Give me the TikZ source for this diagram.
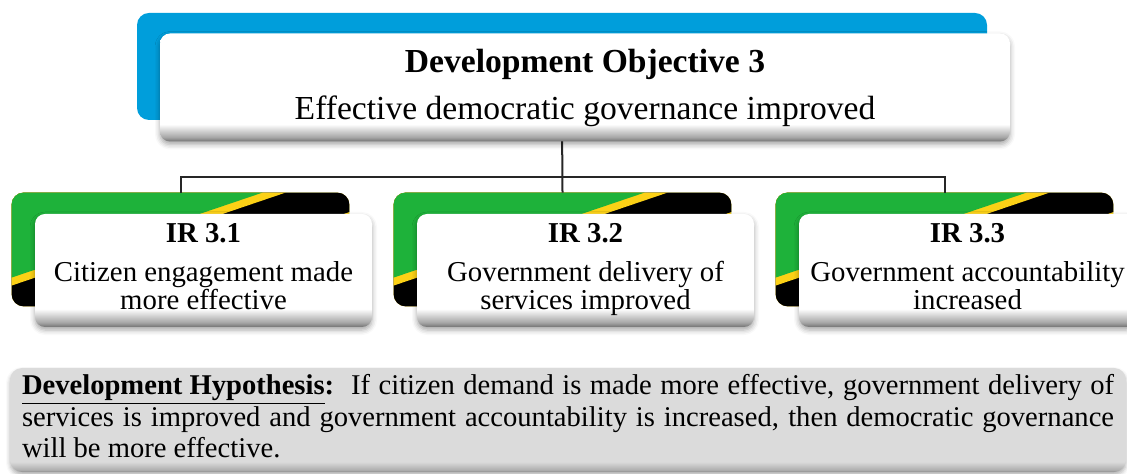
\documentclass[tikz,border=0pt]{standalone}
\usepackage{fontspec}
\setmainfont{Liberation Serif}
\usepackage{tikz}
\usetikzlibrary{shadows.blur}
\definecolor{do-blue}{RGB}{0, 158, 219}
\definecolor{tz-green}{RGB}{30, 178, 58}
\definecolor{tz-yellow}{RGB}{252, 209, 22}
\definecolor{tz-blue}{RGB}{0, 163, 221}

% soft bevel along the lower edge of the boxes
\pgfdeclareverticalshading{whitebevel}{100bp}{color(0bp)=(black!55); color(25bp)=(black!55);
  color(27bp)=(black!35); color(33bp)=(white); color(100bp)=(white)}
\pgfdeclareverticalshading{graybevel}{100bp}{color(0bp)=(black!45); color(25bp)=(black!45);
  color(26bp)=(black!32); color(30bp)=(black!14); color(100bp)=(black!14)}

% flag stripes over an IR plate
\newcommand\flagstripes[1]{%
  \begin{scope}
    \clip[rounded corners=6pt] (#1.north west) rectangle (#1.south east);
    \begin{scope}[shift={(#1.north west)}]
      \fill[tz-yellow] (0,0) -- (0,142) -- (419,0) -- cycle;
      \fill[black] (0,0) -- (0,134) -- (395,0) -- cycle;
      \fill[tz-yellow] (0,0) -- (0,93) -- (274,0) -- cycle;
      \fill[tz-green] (0,0) -- (0,85) -- (251,0) -- cycle;
    \end{scope}
  \end{scope}}

\begin{document}
\begin{tikzpicture}[x=0.5pt, y=-0.5pt,
        plate/.style={rectangle, rounded corners=6pt, inner sep=0pt},
        doplate/.style={plate, fill=do-blue, minimum width=425pt, minimum height=53.5pt},
        irplate/.style={plate, fill=tz-blue, minimum width=168.5pt, minimum height=56.5pt},
        card/.style={rectangle, rounded corners=5pt, shade, shading=whitebevel,
                     inner sep=0pt, align=center,
                     blur shadow={shadow xshift=0pt, shadow yshift=-1.5pt,
                                  shadow blur radius=2.5pt, shadow opacity=35}},
        dobox/.style={card, minimum width=425pt, minimum height=54pt,
                      font=\fontsize{16.8}{20}\selectfont},
        irbox/.style={card, minimum width=168.5pt, minimum height=56.5pt,
                      font=\fontsize{14.4}{14}\selectfont},
        link/.style={line width=1pt, draw=black!85}
      ]
        \useasboundingbox (0,0) rectangle (1127,474);
        \clip (0,0) rectangle (1127,474);

        % coloured plates behind the boxes
        \node[doplate] (dop) at (562,66.5) {};
        \node[irplate] (irp1) at (180.5,249.5) {};
        \node[irplate] (irp2) at (562.5,249.5) {};
        \node[irplate] (irp3) at (944.5,249.5) {};
        \flagstripes{irp1}
        \flagstripes{irp2}
        \flagstripes{irp3}

        % tree lines
        \coordinate (bus) at (562,177);
        \draw[link] (dop.south) -- (irp2.north);
        \draw[link] (irp1.north) |- (bus) -| (irp3.north);

        \node[dobox] (do) at ([shift={(23,21)}]dop.center)
              {\textbf{Development Objective 3}\\[3.5pt]Effective democratic governance improved};
        \node[irbox] (ir1) at ([shift={(23,21)}]irp1.center)
              {\textbf{IR 3.1}\\[5.5pt]Citizen engagement made\\more effective\strut};
        \node[irbox] (ir2) at ([shift={(23,21)}]irp2.center)
              {\textbf{IR 3.2}\\[5.5pt]Government delivery of\\services improved\strut};
        \node[irbox] (ir3) at ([shift={(23,21)}]irp3.center)
              {\textbf{IR 3.3}\\[5.5pt]Government accountability\\increased\strut};

        % hypothesis panel
        \node[rectangle, rounded corners=6pt, shade, shading=graybevel,
              minimum width=558pt, minimum height=52pt, inner xsep=4pt, inner ysep=0pt,
              text width=546pt, align=justify,
              font=\fontsize{14.3}{15.8}\selectfont,
              blur shadow={shadow xshift=0pt, shadow yshift=-1.5pt,
                           shadow blur radius=2pt, shadow opacity=30}] (hyp) at (568,420)
              {\strut\underline{\textbf{Development Hypothesis}}\textbf{:}\ \ If citizen demand is made
               more effective, government delivery of\linebreak services is improved and government
               accountability is increased, then democratic governance\linebreak will be more
               effective.\strut};
      \end{tikzpicture}
\end{document}
